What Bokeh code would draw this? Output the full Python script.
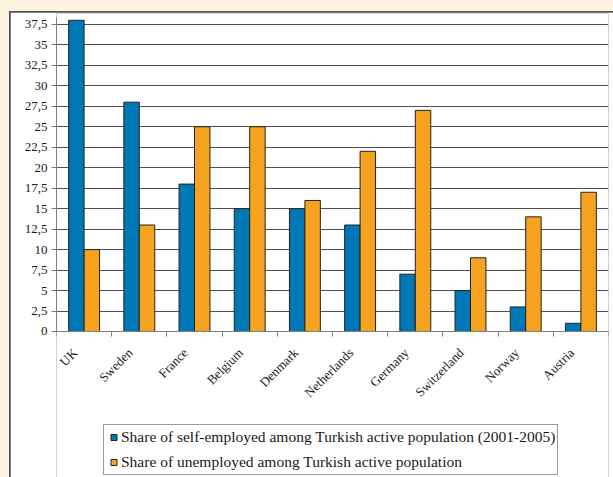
from math import pi
import numpy as np
from bokeh.plotting import figure
from bokeh.layouts import column
from bokeh.core.properties import value
from bokeh.models import (Range1d, LinearAxis, FixedTicker, Legend,
                          LegendItem, ColumnDataSource)
from bokeh.embed import file_html
from bokeh.resources import INLINE

countries = ["UK", "Sweden", "France", "Belgium", "Denmark", "Netherlands",
             "Germany", "Switzerland", "Norway", "Austria"]
self_employed = [38, 28, 18, 15, 15, 13, 7, 5, 3, 1]
unemployed = [10, 13, 25, 25, 16, 22, 27, 9, 14, 17]
y_ticks = [0, 2.5, 5, 7.5, 10, 12.5, 15, 17.5, 20, 22.5, 25, 27.5, 30, 32.5, 35, 37.5]
y_tick_labels = ["0", "2,5", "5", "7,5", "10", "12,5", "15", "17,5", "20", "22,5",
                 "25", "27,5", "30", "32,5", "35", "37,5"]
series_names = ["Share of self-employed among Turkish active population (2001-2005)",
                "Share of unemployed among Turkish active population"]

BLUE = "#0077B6"
ORANGE = "#F6A41F"
EDGE = "#222222"
CREAM = "#FEF2E0"
AXIS = "#808080"
SERIF = "Liberation Serif"

n = len(countries)
centers = np.arange(n) + 0.5
BW = 0.28

W, H = 603, 465
p = figure(width=W, height=H, x_range=Range1d(0, n), y_range=Range1d(-17.83, 38.83),
           output_backend="svg", toolbar_location=None,
           x_axis_location=None, y_axis_location=None,
           min_border_left=46, min_border_right=5, min_border_top=1, min_border_bottom=0)
p.border_fill_color = "white"
p.background_fill_color = "white"
p.outline_line_color = None

src = ColumnDataSource(dict(xc=centers, xs=centers - BW / 2, xu=centers + BW / 2,
                            se=self_employed, un=unemployed, zero=[0] * n,
                            name=countries))
r1 = p.vbar(x="xs", top="se", width=BW, source=src,
            fill_color=BLUE, line_color=EDGE, line_width=1)
r2 = p.vbar(x="xu", top="un", width=BW, source=src,
            fill_color=ORANGE, line_color=EDGE, line_width=1)

# y axis
yax = LinearAxis(ticker=FixedTicker(ticks=y_ticks), bounds=(0, 38.3),
                 major_label_overrides=dict(zip(y_ticks, y_tick_labels)),
                 axis_line_color=AXIS, major_tick_line_color=AXIS,
                 major_tick_out=5, major_tick_in=0, minor_tick_line_color=None,
                 major_label_text_font=SERIF, major_label_text_font_size="13px",
                 major_label_text_color="#1a1a1a", major_label_standoff=4)
p.add_layout(yax, "left")

# x axis line on the zero line, ticks at category boundaries
tick_axis = LinearAxis(ticker=FixedTicker(ticks=list(range(n + 1))), fixed_location=0,
                       major_label_overrides={i: "" for i in range(n + 1)},
                       axis_line_color=AXIS, major_tick_line_color=AXIS,
                       major_tick_out=5, major_tick_in=0, minor_tick_line_color=None,
                       major_label_standoff=0)
p.add_layout(tick_axis, "below")

# rotated category labels
p.text(x="xc", y="zero", text="name", source=src, angle=pi / 4,
       x_offset=-9, y_offset=19, text_align="right", text_baseline="middle",
       text_font=value(SERIF), text_font_size="13px", text_color="#1a1a1a")

p.ygrid.ticker = FixedTicker(ticks=y_ticks)
p.ygrid.grid_line_color = "#505050"
p.ygrid.grid_line_width = 1
p.xgrid.visible = False

# legend swatches: zero-size markers on the bars, used only for their legend glyph
lg1 = p.scatter(x="xs", y="se", source=src, marker="square", size=0,
                fill_color=BLUE, line_color=EDGE, line_width=1)
lg2 = p.scatter(x="xu", y="un", source=src, marker="square", size=0,
                fill_color=ORANGE, line_color=EDGE, line_width=1)

legend = Legend(items=[LegendItem(label=series_names[0], renderers=[lg1]),
                       LegendItem(label=series_names[1], renderers=[lg2])],
                location=(47, 2), orientation="vertical",
                border_line_color="#333333", border_line_width=1,
                background_fill_color="white", background_fill_alpha=1,
                label_text_font=SERIF, label_text_font_size="15.5px",
                label_text_color="#1a1a1a",
                glyph_width=15, glyph_height=20, label_height=20,
                spacing=5, padding=2, margin=0, label_standoff=0)
p.add_layout(legend, "center")

inner = column(p, styles={"background-color": "#555555", "padding-top": "1px",
                          "padding-left": "1px"})
outer = column(inner, styles={"background-color": CREAM, "padding-top": "11px",
                              "padding-left": "9px"})

open("out.html", "w").write(file_html(outer, INLINE))
